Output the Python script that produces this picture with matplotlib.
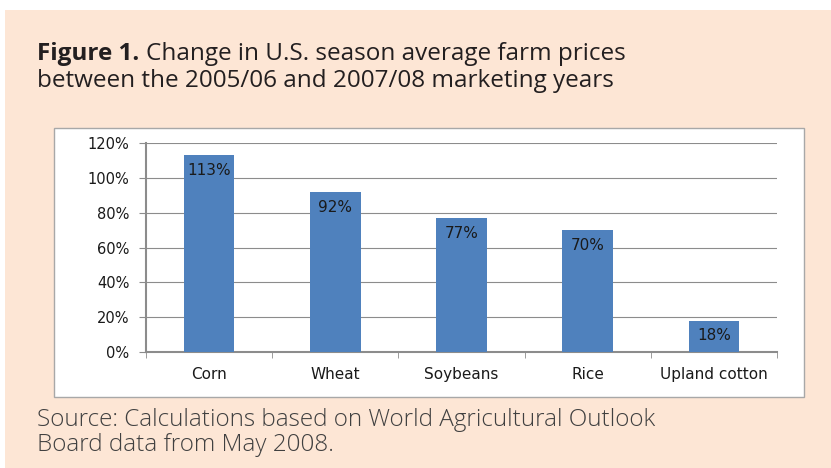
import matplotlib.pyplot as plt
from matplotlib.patches import Rectangle
from matplotlib.ticker import FixedLocator

# price change by crop, 2005/06 -> 2007/08, percent
crops = ['Corn', 'Wheat', 'Soybeans', 'Rice', 'Upland cotton']
change = [113, 92, 77, 70, 18]
yticks = [0, 20, 40, 60, 80, 100, 120]

W, H = 831, 468
fig = plt.figure(figsize=(W / 100, H / 100), dpi=100)
fig.patch.set_facecolor('white')

# peach page background and white chart panel
fig.patches.append(Rectangle((5 / W, 0), 1, 1 - 10 / H, transform=fig.transFigure,
                             facecolor='#fde6d5', edgecolor='none', zorder=0))
fig.patches.append(Rectangle((54 / W, 1 - 397 / H), (804 - 54) / W, (397 - 128) / H,
                             transform=fig.transFigure, facecolor='white',
                             edgecolor='#a8a8a8', lw=1.0, zorder=1))

title_font = 'Open Sans'
head = fig.text(37 / W, 1 - 60 / H, 'Figure 1.', fontsize=17.5, fontweight='bold',
                family=title_font, color='#231f20', va='baseline', ha='left')
fig.canvas.draw()
bb = head.get_window_extent()
fig.text((bb.x1 + 7) / W, 1 - 60 / H, 'Change in U.S. season average farm prices',
         fontsize=17.5, family=title_font, color='#231f20', va='baseline', ha='left')
fig.text(37 / W, 1 - 87 / H, 'between the 2005/06 and 2007/08 marketing years',
         fontsize=17.5, family=title_font, color='#231f20', va='baseline', ha='left')

fig.text(37 / W, 1 - 426 / H, 'Source: Calculations based on World Agricultural Outlook',
         fontsize=17.5, family=title_font, fontweight='light', color='#404040',
         va='baseline', ha='left')
fig.text(37 / W, 1 - 451 / H, 'Board data from May 2008.',
         fontsize=17.5, family=title_font, fontweight='light', color='#404040',
         va='baseline', ha='left')

ax = fig.add_axes([146 / W, 1 - 352 / H, (777 - 146) / W, (352 - 143) / H])
ax.set_zorder(2)
ax.patch.set_alpha(0)

lbl_font = 'DejaVu Sans'
x = list(range(len(crops)))
ax.bar(x, change, width=0.4, color='#4f81bd', zorder=3)
for xi, v in zip(x, change):
    ax.annotate(f'{v}%', (xi, v), xytext=(0, -11), textcoords='offset points',
                ha='center', va='center', fontsize=11, family=lbl_font,
                color='#1a1a1a', zorder=4)

ax.set_xlim(-0.5, len(crops) - 0.5)
ax.set_ylim(0, 120)
ax.set_yticks(yticks)
ax.set_yticklabels([f'{t}%' for t in yticks], fontsize=10.5, family=lbl_font,
                   color='#1a1a1a')
ax.yaxis.grid(True, color='#8c8c8c', lw=0.8)
ax.set_axisbelow(True)

ax.set_xticks(x)
ax.set_xticklabels(crops, fontsize=11, family=lbl_font, color='#1a1a1a')
ax.tick_params(axis='x', length=0, pad=11)
ax.xaxis.set_minor_locator(FixedLocator([i - 0.5 for i in range(len(crops) + 1)]))
ax.tick_params(axis='x', which='minor', length=4, color='#8c8c8c', direction='out')
ax.tick_params(axis='y', length=5, color='#8c8c8c', pad=7)

for s in ['top', 'right']:
    ax.spines[s].set_visible(False)
ax.spines['left'].set_color('#8c8c8c')
ax.spines['left'].set_linewidth(1.5)
ax.spines['bottom'].set_color('#8c8c8c')
ax.spines['bottom'].set_linewidth(1.5)

fig.savefig('out.png', dpi=100, facecolor=fig.get_facecolor())
